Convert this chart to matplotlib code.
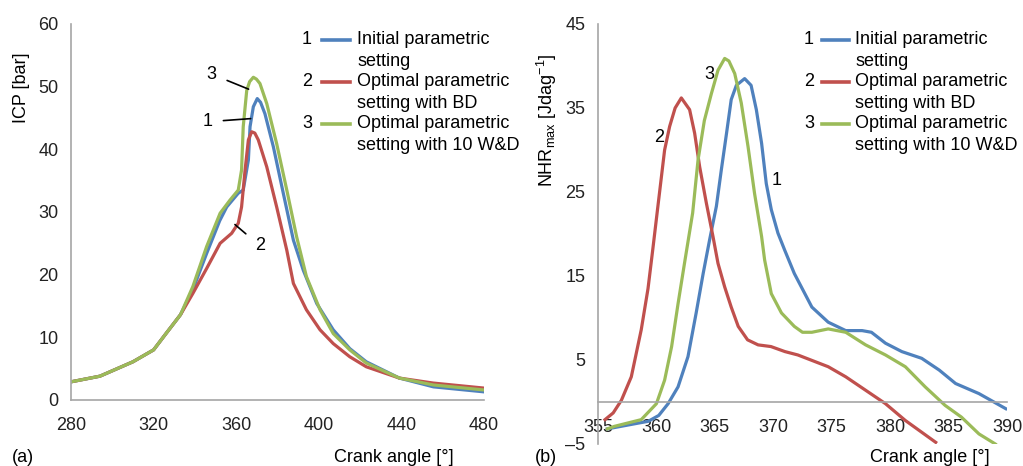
"""ICP and net heat release curves for three parametric settings."""

import matplotlib

matplotlib.use("Agg")
import matplotlib.pyplot as plt
from matplotlib.lines import Line2D

plt.rcParams["font.family"] = ["Liberation Sans", "DejaVu Sans"]
plt.rcParams["font.size"] = 13

BLUE = "#4F81BD"
RED = "#C0504D"
GREEN = "#9BBB59"
AXIS = "#a6a6a6"

# (a) in-cylinder pressure
icp_x_init = [280, 294, 310, 320, 326, 333, 339, 345.7, 352, 355.4, 361, 363.4, 365.9, 366.7,
              368.3, 370.2, 371.8, 373.9, 378, 382.8, 387.7, 392.5, 399, 407, 415, 423, 439,
              455.5, 480]
icp_init = [2.9, 3.8, 6.1, 8.0, 10.6, 13.6, 17.6, 23.4, 28.6, 30.8, 33.0, 33.5, 38.3, 43.6,
            46.8, 48.1, 47.5, 45.7, 40.4, 33.0, 25.5, 20.7, 15.4, 11.2, 8.2, 6.1, 3.5, 2.1, 1.3]
icp_x_bd = [280, 294, 310, 320, 326, 333, 339, 345.7, 352.2, 357.8, 361, 362.6, 364.3, 365.9,
            367.5, 369, 370.7, 374.8, 379.6, 384.5, 387.7, 394, 400.6, 407, 415, 423, 439,
            455.5, 480]
icp_bd = [2.9, 3.8, 6.1, 8.0, 10.6, 13.6, 17.0, 21.0, 25.0, 26.6, 28.2, 30.8, 36.7, 41.5,
          42.8, 42.6, 41.5, 37.2, 30.8, 23.9, 18.6, 14.4, 11.2, 9.0, 6.9, 5.3, 3.5, 2.7, 1.9]
icp_x_wd = [280, 294, 310, 320, 326, 333, 339, 345.7, 352.2, 357, 361, 362.6, 363.4, 365.1,
            366.5, 368.3, 369.8, 371.5, 374.8, 379.6, 384.5, 389.3, 394, 400.6, 407, 415, 423,
            439, 455.5, 480]
icp_wd = [2.9, 3.8, 6.1, 8.0, 10.6, 13.6, 18.1, 24.5, 29.8, 31.9, 33.5, 36.7, 43.6, 49.4,
          50.8, 51.5, 51.2, 50.5, 47.3, 40.9, 33.5, 26.0, 19.7, 14.4, 10.6, 8.0, 5.9, 3.5,
          2.4, 1.6]

# (b) net heat release
nhr_x_init = [355.8, 358.5, 359.3, 360.2, 361, 361.85, 362.7, 363.4, 364, 364.55, 365.13,
              365.55, 366, 366.4, 366.84, 367.55, 368.1, 368.55, 369, 369.4, 369.83, 370.4,
              370.97, 371.8, 373.3, 374.7, 376.2, 377.6, 378.4, 379.6, 381, 382.7, 384.2,
              385.6, 387.6, 389.9]
nhr_init = [-3.2, -2.5, -2.3, -1.6, -0.2, 1.8, 5.4, 10.6, 15.3, 19.3, 23.3, 27.6, 32.0, 36.0,
            37.7, 38.5, 37.7, 34.8, 30.8, 26.0, 22.9, 20.1, 18.1, 15.3, 11.3, 9.5, 8.5, 8.5,
            8.3, 7.0, 6.0, 5.2, 3.8, 2.2, 1.0, -0.8]
nhr_x_bd = [355.6, 356.3, 357.0, 357.85, 358.7, 359.28, 359.7, 360.1, 360.7, 361.13,
            361.6, 362.13, 362.84, 363.27, 363.7, 364.27, 364.84, 365.27, 365.84, 366.4, 367,
            367.8, 368.7, 369.8, 371, 372.1, 374.7, 376.2, 377.9, 379.6, 381.3, 383.9]
nhr_bd = [-2.1, -1.3, 0.2, 3.0, 8.6, 13.5, 18.3, 23.0, 30.0, 32.8, 35.0, 36.2, 34.8,
          32.0, 28.0, 23.7, 19.7, 16.5, 13.7, 11.3, 9.0, 7.4, 6.8, 6.6, 6.0, 5.6, 4.2, 3.0,
          1.4, -0.2, -2.2, -4.8]
nhr_x_wd = [355.8, 356.4, 358.7, 360, 360.7, 361.3, 361.85, 362.4, 363.1, 363.56, 364.1,
            364.7, 365.27, 365.84, 366.2, 366.7, 367.26, 367.84, 368.4, 369, 369.26, 369.83,
            370.7, 371.8, 372.5, 373.3, 374.7, 376.2, 377.9, 379.6, 381.3, 383, 384.7, 386.1,
            387.6, 389]
nhr_wd = [-3.2, -2.9, -2.1, -0.2, 2.6, 6.6, 11.7, 16.5, 22.5, 28.8, 33.5, 36.7, 39.5, 40.9,
          40.6, 39.1, 35.6, 30.4, 24.8, 19.7, 16.9, 12.9, 10.6, 9.0, 8.3, 8.3, 8.7, 8.3, 6.8,
          5.6, 4.2, 1.8, -0.4, -1.8, -3.8, -5.0]

legend_labels = [["Initial parametric", "setting"],
                 ["Optimal parametric", "setting with BD"],
                 ["Optimal parametric", "setting with 10 W&D"]]
colors = [BLUE, RED, GREEN]

W, H = 1023, 466
fig = plt.figure(figsize=(W / 100, H / 100), dpi=100)


def px(x, y):
    return x / W, 1 - y / H


def style(ax):
    for side in ("top", "right"):
        ax.spines[side].set_visible(False)
    for side in ("left", "bottom"):
        ax.spines[side].set_color(AXIS)
        ax.spines[side].set_linewidth(1.2)
    ax.tick_params(length=0, colors="#222222")
    ax.tick_params(axis="x", pad=12)
    ax.tick_params(axis="y", pad=9)


def legend(x_num, x0, x1, x_txt):
    for i, (lines, c) in enumerate(zip(legend_labels, colors)):
        y = 40 + 42 * i
        fig.text(*px(x_num, y), str(i + 1), ha="center", va="center")
        fig.add_artist(Line2D([x0 / W, x1 / W], [1 - y / H] * 2, color=c, lw=2.6))
        fig.text(*px(x_txt, y), lines[0], ha="left", va="center")
        fig.text(*px(x_txt, y + 21), lines[1], ha="left", va="center")


line_kw = dict(lw=2.3, solid_joinstyle="round")

# panel (a)
ax1 = fig.add_axes([71 / W, 1 - 400 / H, 413 / W, 376 / H])
for xs, ys, c in [(icp_x_init, icp_init, BLUE), (icp_x_bd, icp_bd, RED), (icp_x_wd, icp_wd, GREEN)]:
    ax1.plot(xs, ys, color=c, **line_kw)
ax1.set_xlim(280, 480)
ax1.set_ylim(0, 60)
ax1.set_xticks(range(280, 481, 40))
ax1.set_yticks(range(0, 61, 10))
style(ax1)
ax1.annotate("3", xy=(366.0, 49.6), xytext=(348.1, 52.0), ha="center", va="center",
             arrowprops=dict(arrowstyle="-", color="black", lw=1.2, shrinkA=6, shrinkB=0))
ax1.annotate("1", xy=(367.0, 44.9), xytext=(346.0, 44.4), ha="center", va="center",
             arrowprops=dict(arrowstyle="-", color="black", lw=1.2, shrinkA=6, shrinkB=0))
ax1.annotate("2", xy=(359.4, 28.0), xytext=(371.5, 24.6), ha="center", va="center",
             arrowprops=dict(arrowstyle="-", color="black", lw=1.2, shrinkA=6, shrinkB=0))
legend(307, 322, 350, 357)
fig.text(*px(22, 88), "ICP [bar]", rotation=90, ha="center", va="center")
fig.text(*px(394, 457), "Crank angle [°]", ha="center", va="center")
fig.text(*px(12, 457), "(a)", ha="left", va="center")

# panel (b)
ax2 = fig.add_axes([598 / W, 1 - 444 / H, 409 / W, 420 / H])
for xs, ys, c in [(nhr_x_init, nhr_init, BLUE), (nhr_x_bd, nhr_bd, RED), (nhr_x_wd, nhr_wd, GREEN)]:
    ax2.plot(xs, ys, color=c, **line_kw)
ax2.set_xlim(355, 390)
ax2.set_ylim(-5, 45)
ax2.set_xticks(range(355, 391, 5))
ax2.set_yticks(range(-5, 46, 10))
ax2.set_yticklabels(["\u20135"] + [str(v) for v in range(5, 46, 10)])
style(ax2)
ax2.spines["bottom"].set_position(("data", 0))
ax2.text(360.2, 31.5, "2", ha="center", va="center")
ax2.text(364.5, 39.0, "3", ha="center", va="center")
ax2.text(370.3, 26.4, "1", ha="center", va="center")
legend(809, 822, 849, 855)
fig.text(*px(547, 120), r"NHR$_\mathregular{max}$ [Jdag$^\mathregular{-1}$]", rotation=90,
         ha="center", va="center")
fig.text(*px(930, 457), "Crank angle [°]", ha="center", va="center")
fig.text(*px(535, 457), "(b)", ha="left", va="center")

fig.savefig("out.png", dpi=100)
